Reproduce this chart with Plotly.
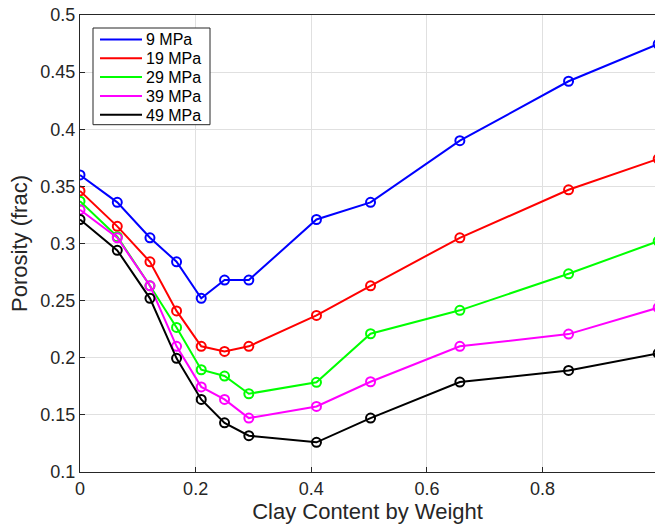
import plotly.graph_objects as go

# Clay content (weight fraction) at each measured sample
clay = [0.0, 0.0645, 0.121, 0.167, 0.2097, 0.250, 0.292, 0.409, 0.5025, 0.657, 0.845, 1.0]

# Porosity at each confining pressure
por_9 = [0.360, 0.336, 0.305, 0.284, 0.252, 0.268, 0.268, 0.321, 0.336, 0.390, 0.442, 0.4745]
por_19 = [0.346, 0.315, 0.284, 0.241, 0.210, 0.2055, 0.210, 0.237, 0.263, 0.305, 0.347, 0.374]
por_29 = [0.337, 0.306, 0.263, 0.2265, 0.1895, 0.184, 0.1685, 0.1785, 0.221, 0.2415, 0.2735, 0.302]
por_39 = [0.3295, 0.305, 0.263, 0.210, 0.1745, 0.1635, 0.1472, 0.1574, 0.179, 0.210, 0.2207, 0.2438]
por_49 = [0.321, 0.294, 0.252, 0.1995, 0.1635, 0.143, 0.1318, 0.126, 0.1472, 0.1787, 0.1889, 0.2038]

series_names = ["9 MPa", "19 MPa", "29 MPa", "39 MPa", "49 MPa"]
series_vals = [por_9, por_19, por_29, por_39, por_49]
series_colors = ["#0000ff", "#ff0000", "#00ff00", "#ff00ff", "#000000"]

x_ticks = [0, 0.2, 0.4, 0.6, 0.8]
x_tick_text = ["0", "0.2", "0.4", "0.6", "0.8"]
y_ticks = [0.1, 0.15, 0.2, 0.25, 0.3, 0.35, 0.4, 0.45, 0.5]
y_tick_text = ["0.1", "0.15", "0.2", "0.25", "0.3", "0.35", "0.4", "0.45", "0.5"]

W, H = 655, 528
ML, MR, MT, MB = 80, 0, 15, 56
plot_w = W - ML - MR
plot_h = H - MT - MB


def px_x(p):
    """Pixel column -> paper x."""
    return (p - ML) / plot_w


def px_y(p):
    """Pixel row (from top) -> paper y."""
    return 1 - (p - MT) / plot_h


fig = go.Figure()

for name, vals, col in zip(series_names, series_vals, series_colors):
    fig.add_trace(go.Scatter(
        x=clay, y=vals, mode="lines+markers", name=name, showlegend=False,
        line=dict(color=col, width=2),
        marker=dict(symbol="circle-open", size=9, color=col, line=dict(width=2, color=col)),
    ))

font_family = "Liberation Sans, Arial, Helvetica, sans-serif"
axis_color = "#262626"

# Legend panel: frame, line samples and labels
row0, row_step = 39.5, 18.8
n_rows = len(series_names)
box_l, box_r, box_t = 93, 210, 28
box_b = row0 + (n_rows - 1) * row_step + 10
shapes = [dict(
    type="rect", xref="paper", yref="paper",
    x0=px_x(box_l), x1=px_x(box_r), y0=px_y(box_b), y1=px_y(box_t),
    line=dict(color=axis_color, width=1), fillcolor="white", layer="above",
)]
annotations = []
for i, (name, col) in enumerate(zip(series_names, series_colors)):
    yc = row0 + i * row_step
    shapes.append(dict(
        type="line", xref="paper", yref="paper",
        x0=px_x(100), x1=px_x(142), y0=px_y(yc), y1=px_y(yc),
        line=dict(color=col, width=2), layer="above",
    ))
    annotations.append(dict(
        text=name, xref="paper", yref="paper", x=px_x(144), y=px_y(yc + 0.5),
        xanchor="left", yanchor="middle", showarrow=False,
        font=dict(size=16, color="#000000", family=font_family),
    ))

fig.update_layout(
    width=W, height=H,
    margin=dict(l=ML, r=MR, t=MT, b=MB),
    plot_bgcolor="white", paper_bgcolor="white",
    font=dict(family=font_family, color=axis_color, size=18),
    showlegend=False,
    shapes=shapes,
    annotations=annotations,
    xaxis=dict(
        range=[0, 0.9945], tickvals=x_ticks, ticktext=x_tick_text,
        showgrid=True, gridcolor="#e0e0e0", gridwidth=1,
        showline=True, linecolor=axis_color, linewidth=1, mirror=True,
        ticks="inside", ticklen=5, tickcolor=axis_color, zeroline=False,
        title=dict(text="Clay Content by Weight", font=dict(size=22, color=axis_color), standoff=0),
        tickfont=dict(size=18, color=axis_color),
    ),
    yaxis=dict(
        range=[0.1, 0.5], tickvals=y_ticks, ticktext=y_tick_text,
        showgrid=True, gridcolor="#e0e0e0", gridwidth=1,
        showline=True, linecolor=axis_color, linewidth=1, mirror=True,
        ticks="inside", ticklen=5, tickcolor=axis_color, zeroline=False,
        title=dict(text="Porosity (frac)", font=dict(size=22, color=axis_color), standoff=6),
        tickfont=dict(size=18, color=axis_color),
    ),
)

fig.write_html("out.html")
